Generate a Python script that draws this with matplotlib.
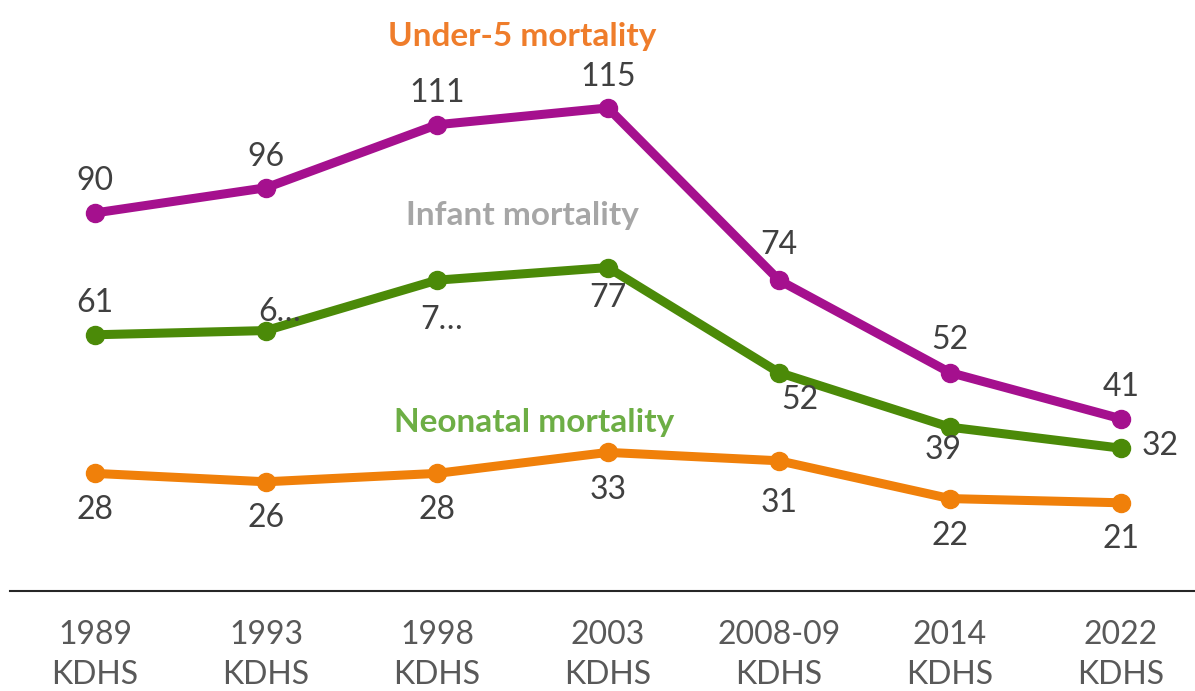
import matplotlib.pyplot as plt

surveys = ['1989\nKDHS', '1993\nKDHS', '1998\nKDHS', '2003\nKDHS',
           '2008-09\nKDHS', '2014\nKDHS', '2022\nKDHS']
under5 = [90, 96, 111, 115, 74, 52, 41]
infant = [61, 62, 74, 77, 52, 39, 34]
neonatal = [28, 26, 28, 33, 31, 22, 21]

# text shown on the chart (two labels are cut off in the original)
infant_text = ['61', '6…', '7…', '77', '52', '39', '32']

# label offsets in pixels (dx, dy) relative to each point
under5_off = [(0, 32), (0, 31), (0, 32), (0, 31), (0, 35), (0, 33), (0, 32)]
infant_off = [(0, 32), (14, 19), (5, -40), (0, -30), (21, -27), (-7, -23), (39, 2)]
neonatal_off = [(0, -37), (0, -36), (0, -37), (0, -38), (0, -42), (0, -37), (0, -36)]

c_u5 = '#A5108E'
c_inf = '#4B8A08'
c_neo = '#F0800A'
label_col = '#404040'

plt.rcParams['font.family'] = ['Lato', 'DejaVu Sans']

fig = plt.figure(figsize=(11.95, 6.91), dpi=100)
ax = fig.add_axes([10 / 1195, 100 / 691, 1185 / 1195, 591 / 691])

x = list(range(len(surveys)))
for vals, col, offs, texts in [
        (under5, c_u5, under5_off, [str(v) for v in under5]),
        (infant, c_inf, infant_off, infant_text),
        (neonatal, c_neo, neonatal_off, [str(v) for v in neonatal])]:
    ax.plot(x, vals, color=col, linewidth=6.5, marker='o', markersize=13,
            solid_capstyle='round', clip_on=False)
    for xi, v, (dx, dy), t in zip(x, vals, offs, texts):
        ax.annotate(t, (xi, v), xytext=(dx, dy), textcoords='offset pixels',
                    ha='center', va='center', fontsize=23, color=label_col)

ax.text(2.5, 132, 'Under-5 mortality', color='#EF7D2B', fontsize=24,
        fontweight='bold', ha='center', va='center')
ax.text(2.5, 89.5, 'Infant mortality', color='#A6A6A6', fontsize=24,
        fontweight='bold', ha='center', va='center')
ax.text(2.57, 40, 'Neonatal mortality', color='#6DAE45', fontsize=24,
        fontweight='bold', ha='center', va='center')

ax.set_xlim(-0.497, 6.433)
ax.set_ylim(0, 140.7)
ax.set_xticks(x)
ax.set_xticklabels(surveys, fontsize=23, color='#595959', linespacing=1.4)
ax.tick_params(axis='x', length=0, pad=21)
ax.set_yticks([])
for side in ['top', 'right', 'left']:
    ax.spines[side].set_visible(False)
ax.spines['bottom'].set_color('#262626')
ax.spines['bottom'].set_linewidth(1.5)

plt.savefig('out.png', dpi=100)
